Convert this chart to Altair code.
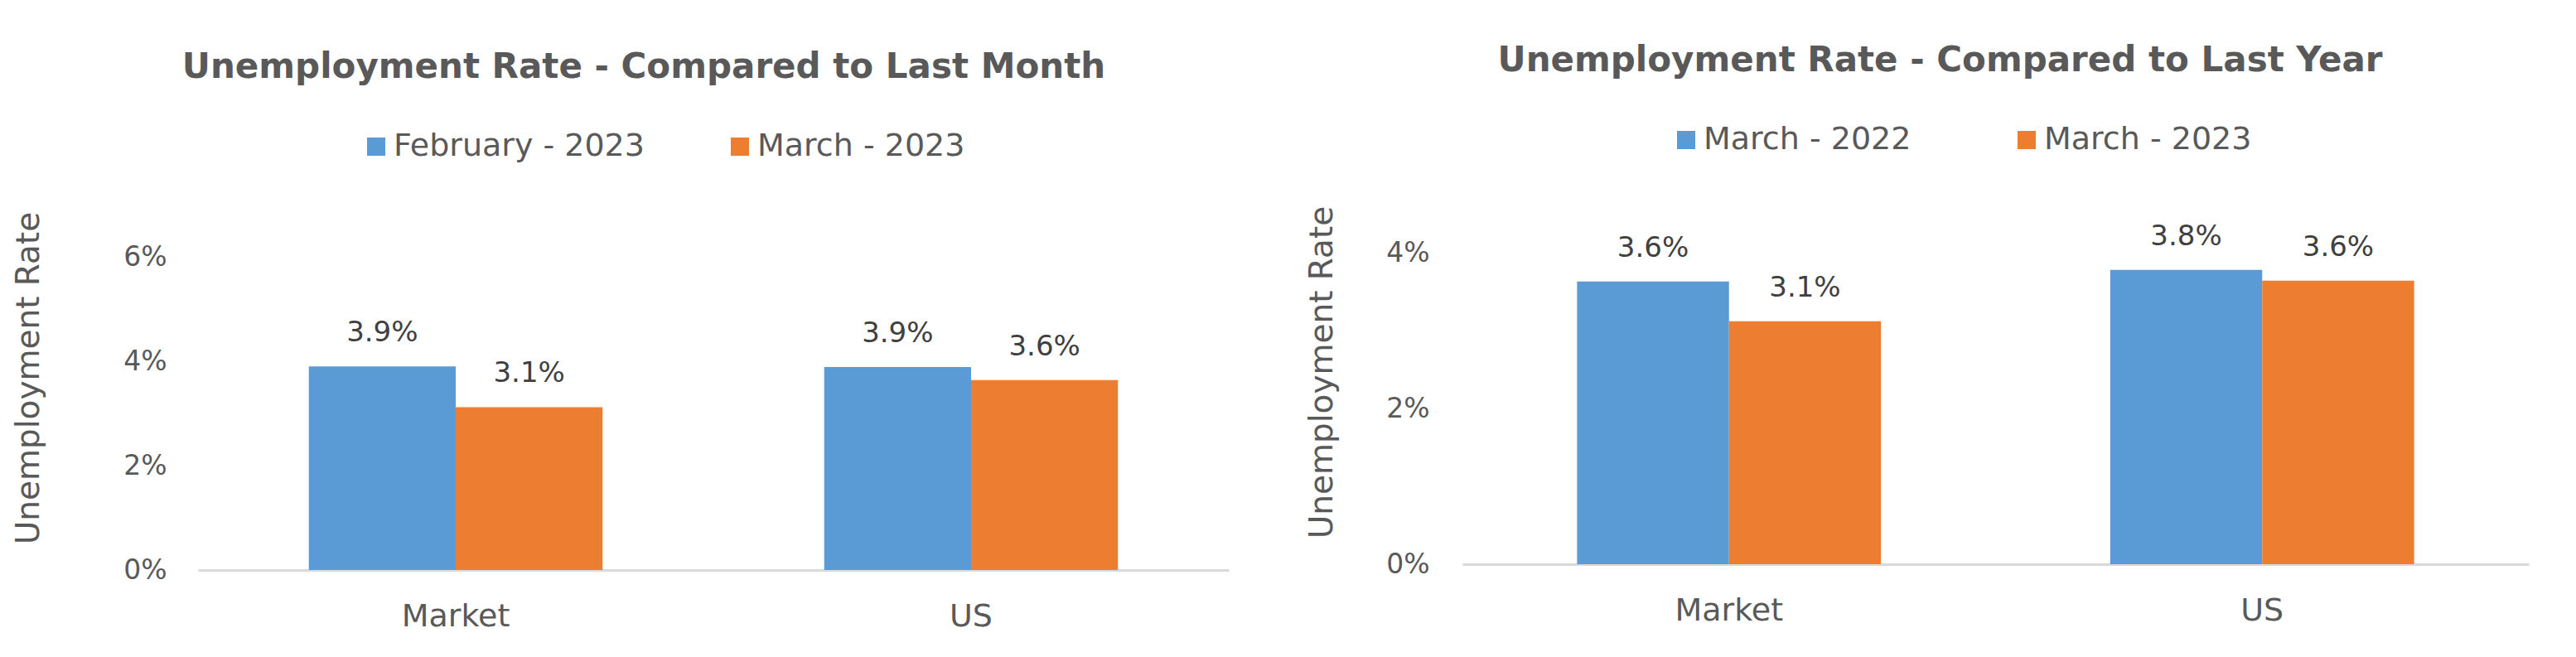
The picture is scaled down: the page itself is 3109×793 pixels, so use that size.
import altair as alt
import pandas as pd

FONT = "DejaVu Sans"
BLUE = "#5B9BD5"
ORANGE = "#ED7D31"
GREY = "#595959"

categories = ["Market", "US"]

# Chart 1: compared to last month
month_series = ["February - 2023", "March - 2023"]
feb_2023 = [3.90, 3.89]
mar_2023 = [3.12, 3.64]

# Chart 2: compared to last year
year_series = ["March - 2022", "March - 2023"]
mar_2022 = [3.63, 3.78]

month_ticks = [0, 0.02, 0.04, 0.06]
year_ticks = [0, 0.02, 0.04]


def build_df(names, lists):
    rows = []
    for n, vals in zip(names, lists):
        for c, v in zip(categories, vals):
            rows.append({"Area": c, "Series": n, "Rate": v / 100.0})
    return pd.DataFrame(rows)


def panel(title, names, lists, ymax, ticks, w, h, leg_x, leg_y, col_pad,
          t_x, t_y, lab_pad, title_dx, title_off):
    df = build_df(names, lists)
    base = alt.Chart(df).encode(
        x=alt.X("Area:N", sort=categories,
                scale=alt.Scale(paddingInner=0.43, paddingOuter=0.215),
                axis=alt.Axis(title=None, labelAngle=0, labelFontSize=38,
                              labelFont=FONT, labelColor=GREY,
                              labelPadding=67, labelBaseline="alphabetic",
                              ticks=False, domainColor="#D9D9D9",
                              domainWidth=3, grid=False)),
        xOffset=alt.XOffset("Series:N", sort=names,
                            scale=alt.Scale(paddingInner=0, paddingOuter=0)),
        y=alt.Y("Rate:Q",
                scale=alt.Scale(domain=[0, ymax], nice=False, zero=True),
                axis=alt.Axis(values=ticks, format=".0%",
                              title="Unemployment Rate", titleFont=FONT,
                              titleFontSize=39, titleFontWeight="normal",
                              titleColor=GREY, titleAngle=270,
                              titleBaseline="alphabetic", titleAlign="center",
                              titleX=t_x, titleY=t_y,
                              labelFont=FONT, labelFontSize=33,
                              labelColor=GREY, labelPadding=lab_pad,
                              domain=False, ticks=False, grid=False)),
    )
    bars = base.mark_bar().encode(
        color=alt.Color("Series:N", sort=names,
                        scale=alt.Scale(domain=names, range=[BLUE, ORANGE]),
                        legend=alt.Legend(orient="none", legendX=leg_x,
                                          legendY=leg_y,
                                          direction="horizontal",
                                          title=None, symbolType="square",
                                          symbolSize=484,
                                          symbolStrokeWidth=0,
                                          labelFont=FONT, labelFontSize=38,
                                          labelColor=GREY, labelLimit=1000,
                                          columnPadding=col_pad,
                                          labelOffset=2, padding=0))
    )
    labels = base.mark_text(dy=-30, baseline="alphabetic", fontSize=34,
                            font=FONT, color="#404040").encode(
        text=alt.Text("Rate:Q", format=".1%")
    )
    return alt.layer(bars, labels).properties(
        width=w, height=h,
        title=alt.Title(title, font=FONT, fontSize=42, fontWeight="bold",
                        color=GREY, anchor="middle", dx=title_dx,
                        offset=title_off, baseline="alphabetic"),
    )


left = panel("Unemployment Rate - Compared to Last Month", month_series,
             [feb_2023, mar_2023], 0.071429, month_ticks, 1244, 450,
             196, -80, 96, -193, 218, 38, -84, 22)
right = panel("Unemployment Rate - Compared to Last Year", year_series,
              [mar_2022, mar_2023], 0.047128, year_ticks, 1287, 443,
              251, -88, 120, -158, 211, 40, -67, 22)

chart = alt.hconcat(left, right, spacing=93).resolve_scale(
    color="independent", y="independent", x="independent", xOffset="independent"
).properties(
    padding={"left": 7, "top": 44, "right": 5, "bottom": 5},
    background="white",
).configure_view(stroke=None)

chart.save("out.html", embed_options={"renderer": "svg", "actions": False})
